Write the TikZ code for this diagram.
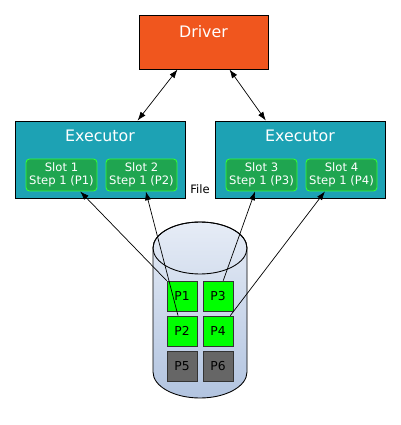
\documentclass[tikz,border=0pt]{standalone}
\usepackage{fontspec}
\setmainfont{DejaVu Sans}
\usetikzlibrary{positioning,calc,arrows.meta}
\definecolor{driverorange}{HTML}{F0561E}
\definecolor{execteal}{HTML}{1DA2B4}
\definecolor{slotgreen}{HTML}{1FA550}
\definecolor{slotedge}{HTML}{33FF33}
\definecolor{partgreen}{HTML}{00FF00}
\definecolor{partgray}{HTML}{666666}
\definecolor{cyltop}{HTML}{E6ECF6}
\definecolor{cylbottom}{HTML}{B2C4E0}
\tikzset{
  boxdriver/.style={draw=black,fill=driverorange,minimum width=2.58cm,minimum height=1.08cm,line width=0.5pt},
  boxexec/.style={draw=black,fill=execteal,minimum width=3.4cm,minimum height=1.54cm,line width=0.5pt},
  boxtitle/.style={text=white,font=\fontsize{9}{10}\selectfont,inner sep=0pt},
  slotbox/.style={draw=slotedge,fill=slotgreen,rounded corners=2pt,minimum width=1.42cm,minimum height=0.64cm,
    text=white,align=center,inner sep=0pt,font=\fontsize{6.6}{7.6}\selectfont,line width=0.5pt},
  partbox/.style={draw=black!80,fill=partgreen,minimum size=0.6cm,inner sep=0pt,font=\fontsize{7}{8}\selectfont,line width=0.4pt},
  partdone/.style={partbox,fill=partgray},
  link/.style={-{Latex[length=5pt,width=3.5pt]},line width=0.4pt},
  duplex/.style={{Latex[length=5pt,width=3.5pt]}-{Latex[length=5pt,width=3.5pt]},line width=0.4pt}
}
\begin{document}
\begin{tikzpicture}[x=0.02cm,y=-0.02cm]
  \useasboundingbox (0,0) rectangle (400,425);
  % driver and executors
  \node[boxdriver] (driver) at (203.5,42) {};
  \node[boxtitle,below=11pt*0.567 of driver.north] (drivertext) {Driver};
  \node[boxexec] (execA) at (100,159.5) {};
  \node[boxtitle,below=9pt*0.567 of execA.north] (execAtext) {Executor};
  \node[boxexec] (execB) at (300,159.5) {};
  \node[boxtitle,below=9pt*0.567 of execB.north] (execBtext) {Executor};
  % slots
  \node[slotbox] (slot1) at (61.5,175) {Slot 1\\Step 1 (P1)};
  \node[slotbox] (slot2) at (141.5,175) {Slot 2\\Step 1 (P2)};
  \node[slotbox] (slot3) at (261.5,175) {Slot 3\\Step 1 (P3)};
  \node[slotbox] (slot4) at (341.5,175) {Slot 4\\Step 1 (P4)};
  \node[font=\fontsize{6.6}{7.6}\selectfont,inner sep=0pt] (filelabel) at (200,189) {File};
  % the file as a cylinder
  \path[draw=black,line width=0.5pt,top color=cyltop,bottom color=cylbottom]
    (153,248) -- (153,372) arc (180:0:47 and 26) -- (247,248) arc (0:-180:47 and 26) -- cycle;
  \draw[line width=0.5pt] (200,248) ellipse (47 and 26);
  % partitions
  \node[partbox] (p1) at (182,296) {P1};
  \node[partbox] (p3) at (218,296) {P3};
  \node[partbox] (p2) at (182,331) {P2};
  \node[partbox] (p4) at (218,331) {P4};
  \node[partdone] (p5) at (182,366) {P5};
  \node[partdone] (p6) at (218,366) {P6};
  % connectors
  \draw[duplex] ($(driver.south west)!0.30!(driver.south east)$) -- ($(execA.north west)!0.72!(execA.north east)$);
  \draw[duplex] ($(driver.south west)!0.70!(driver.south east)$) -- ($(execB.north west)!0.30!(execB.north east)$);
  \draw[link] (p1.north west) -- ($(slot1.south west)!0.76!(slot1.south east)$);
  \draw[link] ($(p2.north west)!0.37!(p2.north east)$) -- ($(slot2.south west)!0.56!(slot2.south east)$);
  \draw[link] ($(p3.north west)!0.67!(p3.north east)$) -- ($(slot3.south west)!0.41!(slot3.south east)$);
  \draw[link] ($(p4.north west)!0.9!(p4.north east)$) -- ($(slot4.south west)!0.27!(slot4.south east)$);
\end{tikzpicture}
\end{document}
